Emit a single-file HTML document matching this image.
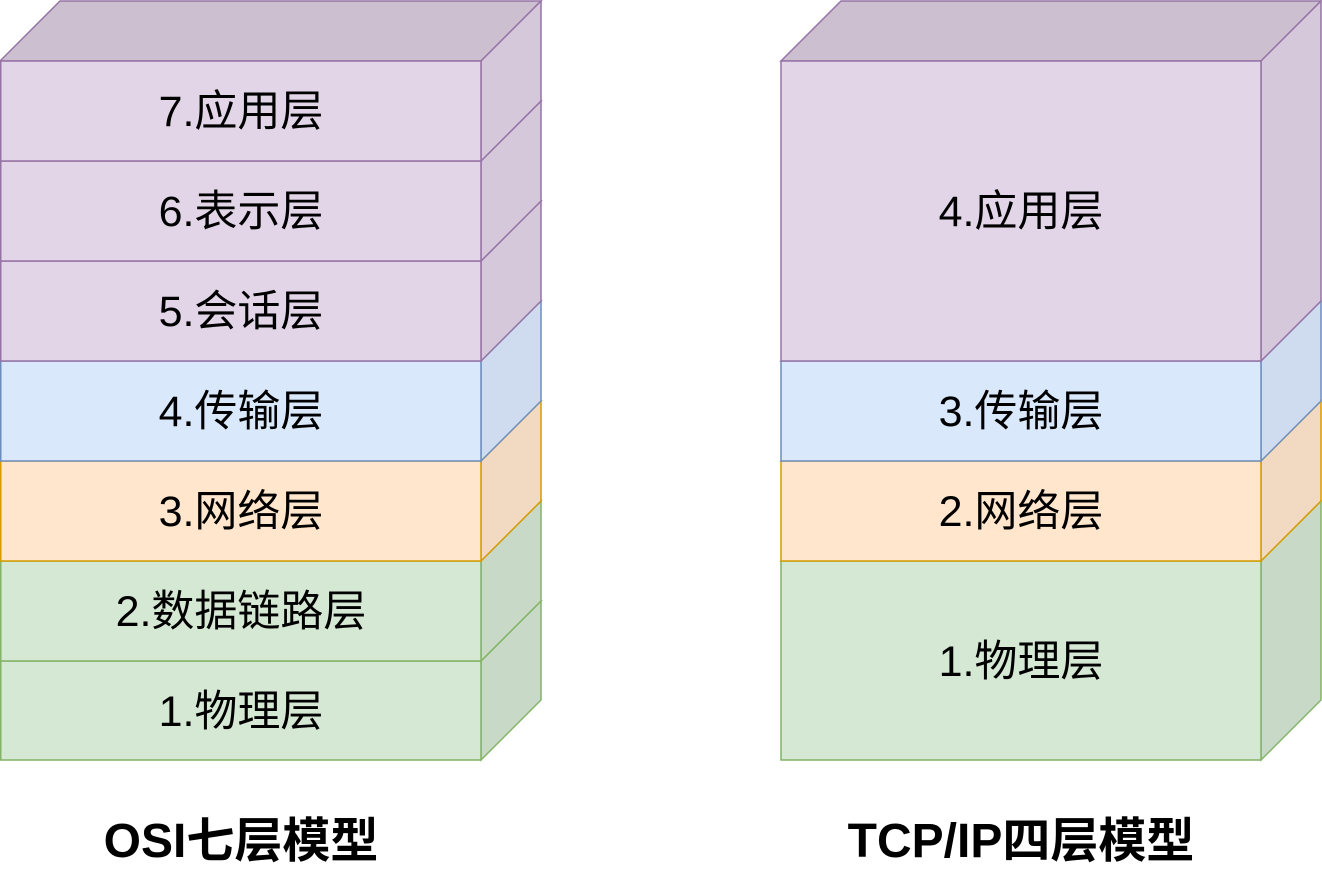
<!DOCTYPE html>
<html><head><meta charset="utf-8"><style>html,body{margin:0;padding:0;background:#fff}svg{display:block}</style></head><body>
<svg width="1322" height="882" xmlns="http://www.w3.org/2000/svg" font-family="'Liberation Sans','Noto Sans CJK SC',sans-serif">
<g stroke-width="1.5">
<polygon points="60,601 541,601 481,661 0,661" fill="#c0d1bf" stroke="#82b366"/>
<polygon points="481,661 541,601 541,700 481,760" fill="#c8d9c7" stroke="#82b366"/>
<rect x="0.75" y="661" width="480.25" height="99" fill="#d5e8d4" stroke="#82b366"/>
<polygon points="60,501 541,501 481,561 0,561" fill="#c0d1bf" stroke="#82b366"/>
<polygon points="481,561 541,501 541,601 481,661" fill="#c8d9c7" stroke="#82b366"/>
<rect x="0.75" y="561" width="480.25" height="100" fill="#d5e8d4" stroke="#82b366"/>
<polygon points="60,401 541,401 481,461 0,461" fill="#e6cfb8" stroke="#d79b00"/>
<polygon points="481,461 541,401 541,501 481,561" fill="#f2dac2" stroke="#d79b00"/>
<rect x="0.75" y="461" width="480.25" height="100" fill="#ffe6cc" stroke="#d79b00"/>
<polygon points="60,301 541,301 481,361 0,361" fill="#c4d1e3" stroke="#6c8ebf"/>
<polygon points="481,361 541,301 541,401 481,461" fill="#cfdcef" stroke="#6c8ebf"/>
<rect x="0.75" y="361" width="480.25" height="100" fill="#dae8fc" stroke="#6c8ebf"/>
<polygon points="60,201 541,201 481,261 0,261" fill="#cbbfd0" stroke="#9673a6"/>
<polygon points="481,261 541,201 541,301 481,361" fill="#d5c8db" stroke="#9673a6"/>
<rect x="0.75" y="261" width="480.25" height="100" fill="#e1d5e7" stroke="#9673a6"/>
<polygon points="60,101 541,101 481,161 0,161" fill="#cbbfd0" stroke="#9673a6"/>
<polygon points="481,161 541,101 541,201 481,261" fill="#d5c8db" stroke="#9673a6"/>
<rect x="0.75" y="161" width="480.25" height="100" fill="#e1d5e7" stroke="#9673a6"/>
<polygon points="60,1 541,1 481,61 0,61" fill="#cbbfd0" stroke="#9673a6"/>
<polygon points="481,61 541,1 541,101 481,161" fill="#d5c8db" stroke="#9673a6"/>
<rect x="0.75" y="61" width="480.25" height="100" fill="#e1d5e7" stroke="#9673a6"/>

<polygon points="841,501 1321,501 1261,561 781,561" fill="#c0d1bf" stroke="#82b366"/>
<polygon points="1261,561 1321,501 1321,700 1261,760" fill="#c8d9c7" stroke="#82b366"/>
<rect x="781" y="561" width="480" height="199" fill="#d5e8d4" stroke="#82b366"/>
<polygon points="841,401 1321,401 1261,461 781,461" fill="#e6cfb8" stroke="#d79b00"/>
<polygon points="1261,461 1321,401 1321,501 1261,561" fill="#f2dac2" stroke="#d79b00"/>
<rect x="781" y="461" width="480" height="100" fill="#ffe6cc" stroke="#d79b00"/>
<polygon points="841,301 1321,301 1261,361 781,361" fill="#c4d1e3" stroke="#6c8ebf"/>
<polygon points="1261,361 1321,301 1321,401 1261,461" fill="#cfdcef" stroke="#6c8ebf"/>
<rect x="781" y="361" width="480" height="100" fill="#dae8fc" stroke="#6c8ebf"/>
<polygon points="841,1 1321,1 1261,61 781,61" fill="#cbbfd0" stroke="#9673a6"/>
<polygon points="1261,61 1321,1 1321,301 1261,361" fill="#d5c8db" stroke="#9673a6"/>
<rect x="781" y="61" width="480" height="300" fill="#e1d5e7" stroke="#9673a6"/>
</g>
<g font-size="43" text-anchor="middle" fill="#000">
<text x="241" y="126">7.应用层</text>
<text x="241" y="226">6.表示层</text>
<text x="241" y="326">5.会话层</text>
<text x="241" y="426">4.传输层</text>
<text x="241" y="526">3.网络层</text>
<text x="241" y="626">2.数据链路层</text>
<text x="241" y="726">1.物理层</text>
<text x="1021" y="226">4.应用层</text>
<text x="1021" y="426">3.传输层</text>
<text x="1021" y="526">2.网络层</text>
<text x="1021" y="676">1.物理层</text>
</g>
<g font-size="48" font-weight="bold" text-anchor="middle">
<text x="241" y="857">OSI七层模型</text>
<text x="1021" y="857">TCP/IP四层模型</text>
</g>
</svg>
</body></html>
